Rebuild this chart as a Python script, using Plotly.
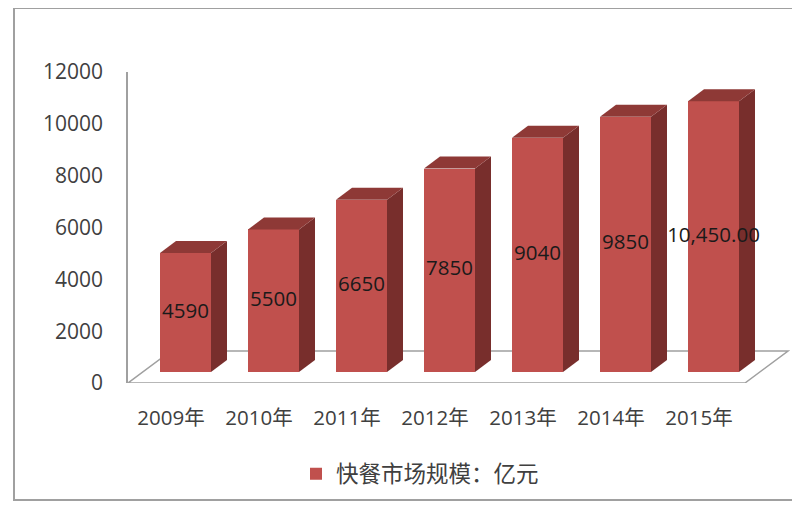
import plotly.graph_objects as go

# ---- data ----
years = ["2009年", "2010年", "2011年", "2012年", "2013年", "2014年", "2015年"]
values = [4590, 5500, 6650, 7850, 9040, 9850, 10450]
value_labels = ["4590", "5500", "6650", "7850", "9040", "9850", "10,450.00"]
series_name = "快餐市场规模：亿元"
y_ticks = [0, 2000, 4000, 6000, 8000, 10000, 12000]

# ---- geometry / style constants (screen pixels; page body has 8px margin) ----
OFF = 8
W, H = 800, 512 - OFF
PLOT_L, PLOT_R, PLOT_T, PLOT_B = 128 - OFF, 790 - OFF, 72 - OFF, 383 - OFF
FIRST_CENTER_PX = 185.5 - OFF
SPACING_PX = 88.0
Y_MAX = 12000.0
PX_PER_UNIT_Y = (PLOT_B - PLOT_T) / Y_MAX

def dx(px):  # pixel width -> x units
    return px / SPACING_PX

def dy(px):  # pixel height -> y units
    return px / PX_PER_UNIT_Y

def xval(screen_px):
    return (screen_px - OFF - FIRST_CENTER_PX) / SPACING_PX

def paper_x(screen_px):
    return (screen_px - OFF - PLOT_L) / (PLOT_R - PLOT_L)

def paper_y(screen_py):
    return (PLOT_B - (screen_py - OFF)) / (PLOT_B - PLOT_T)

BAR_W = dx(51)
BASE = dy(11)          # front face base above floor front edge
DEPTH_X = dx(16)
DEPTH_Y = dy(12)
FLOOR_DX = dx(43)
FLOOR_DY = dy(32)
FRONT = "#C0504D"
TOP = "#8E3936"
SIDE = "#782E2C"
GRID = "#A0A0A0"
FONT = "Open Sans, Noto Sans CJK SC, sans-serif"

idx = list(range(len(years)))

fig = go.Figure()

# front faces
fig.add_trace(go.Bar(
    x=idx, y=values, base=BASE, width=BAR_W,
    marker=dict(color=FRONT, line=dict(width=0)),
    name=series_name, showlegend=True, hoverinfo="skip",
))

# side + top faces
for i, v in zip(idx, values):
    xl = i - BAR_W / 2
    xr = i + BAR_W / 2
    top = BASE + v
    fig.add_trace(go.Scatter(
        x=[xr, xr, xr + DEPTH_X, xr + DEPTH_X, xr],
        y=[BASE, top, top + DEPTH_Y, BASE + DEPTH_Y, BASE],
        mode="lines", fill="toself", fillcolor=SIDE,
        line=dict(width=0, color=SIDE), showlegend=False, hoverinfo="skip",
    ))
    fig.add_trace(go.Scatter(
        x=[xl, xr, xr + DEPTH_X, xl + DEPTH_X, xl],
        y=[top, top, top + DEPTH_Y, top + DEPTH_Y, top],
        mode="lines", fill="toself", fillcolor=TOP,
        line=dict(width=0, color=TOP), showlegend=False, hoverinfo="skip",
    ))

# value labels
fig.add_trace(go.Scatter(
    x=idx, y=[BASE + v / 2 for v in values], mode="text", text=value_labels,
    textfont=dict(family=FONT, size=20.5, color="#1a1a1a"),
    showlegend=False, hoverinfo="skip",
))

# floor parallelogram (below bars)
fx0 = xval(128)
fx1 = xval(745)
floor_path = (f"M {fx0},0 L {fx1},0 L {fx1 + FLOOR_DX},{FLOOR_DY} "
              f"L {fx0 + FLOOR_DX},{FLOOR_DY} Z")
shapes = [
    dict(type="path", xref="x", yref="y", path=floor_path,
         line=dict(color=GRID, width=1.5), layer="below"),
    dict(type="rect", xref="paper", yref="paper",
         x0=paper_x(14), x1=paper_x(812), y0=paper_y(500), y1=paper_y(8),
         line=dict(color=GRID, width=2), layer="below"),
]

fig.update_layout(
    width=W, height=H,
    margin=dict(l=PLOT_L, r=W - PLOT_R, t=PLOT_T, b=H - PLOT_B),
    paper_bgcolor="white", plot_bgcolor="white",
    font=dict(family=FONT, size=20, color="#404040"),
    shapes=shapes,
    showlegend=True,
    legend=dict(orientation="h", x=paper_x(296), xanchor="left",
                y=paper_y(474), yanchor="middle",
                font=dict(family="Noto Sans CJK SC, sans-serif", size=22.5, color="#404040"),
                bgcolor="rgba(0,0,0,0)"),
    xaxis=dict(
        range=[xval(128), xval(790)],
        tickvals=[i - dx(14.5) for i in idx], ticktext=years,
        ticks="outside", ticklen=16, tickcolor="rgba(0,0,0,0)",
        showgrid=False, zeroline=False, showline=False, fixedrange=True,
        tickfont=dict(family=FONT, size=20.5, color="#404040"),
    ),
    yaxis=dict(
        range=[0, Y_MAX], tickvals=y_ticks, ticktext=[str(t) for t in y_ticks],
        ticks="outside", ticklen=19, tickcolor="rgba(0,0,0,0)",
        showgrid=False, zeroline=False, showline=True,
        linecolor=GRID, linewidth=1.5, fixedrange=True,
        tickfont=dict(family=FONT, size=21, color="#404040"),
    ),
    bargap=0,
)

fig.write_html("out.html")
